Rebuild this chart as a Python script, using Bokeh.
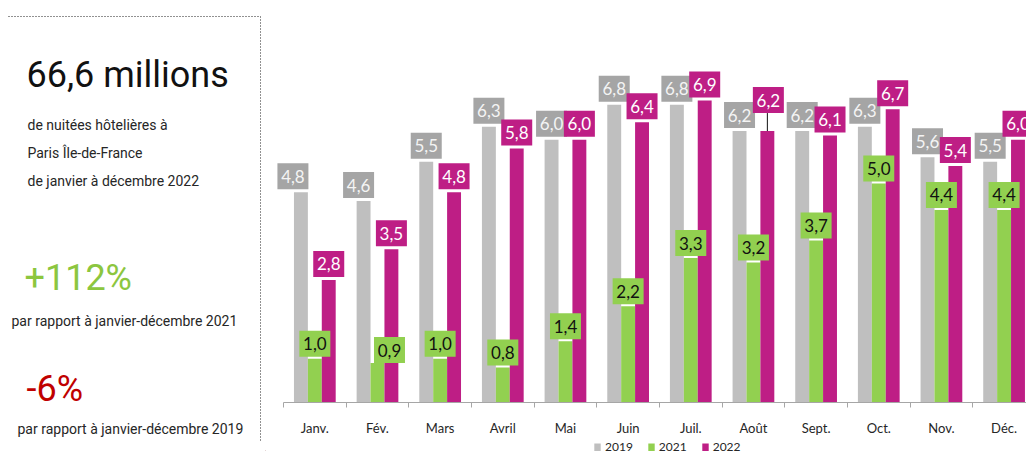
from bokeh.plotting import figure
from bokeh.layouts import row, column
from bokeh.models import Range1d, FixedTicker, Legend, LegendItem
from bokeh.embed import file_html
from bokeh.resources import INLINE
from bokeh.core.properties import value

# ---------------- data ----------------
months = ["Janv.", "Fév.", "Mars", "Avril", "Mai", "Juin", "Juil.", "Août",
          "Sept.", "Oct.", "Nov.", "Déc."]
years = ["2019", "2021", "2022"]
v2019 = [4.8, 4.6, 5.5, 6.3, 6.0, 6.8, 6.8, 6.2, 6.2, 6.3, 5.6, 5.5]
v2021 = [1.0, 0.9, 1.0, 0.8, 1.4, 2.2, 3.3, 3.2, 3.7, 5.0, 4.4, 4.4]
v2022 = [2.8, 3.5, 4.8, 5.8, 6.0, 6.4, 6.9, 6.2, 6.1, 6.7, 5.4, 6.0]

headline = "66,6 millions"
subtitle_lines = ["de nuitées hôtelières à", "Paris Île-de-France",
                  "de janvier à décembre 2022"]
kpi_2021 = "+112%"
kpi_2021_text = "par rapport à janvier-décembre 2021"
kpi_2019 = "-6%"
kpi_2019_text = "par rapport à janvier-décembre 2019"

# ---------------- style / layout ----------------
W, H = 1026, 451
LEG_H = 13
LEFT_W = 265
RIGHT_W = W - LEFT_W
CHART_H = H - LEG_H
BORDER_L, BORDER_T = 5, 8
BORDER_B = CHART_H - 402
FRAME_W = RIGHT_W - BORDER_L
FRAME_H = CHART_H - BORDER_T - BORDER_B
CAT_PX = 62.66
AXIS_PAD_PX = 13          # extra frame room left of the axis start
X_START = -0.5 - AXIS_PAD_PX / CAT_PX
X_END = X_START + FRAME_W / CAT_PX
Y_END = 9.0
PPU = FRAME_H / Y_END
BAR_W = 0.222

bar_colors = {"2019": "#BFBFBF", "2021": "#92D050", "2022": "#BE1E85"}
box_colors = {"2019": "#A5A5A5", "2021": "#92D050", "2022": "#BE1E85"}
txt_colors = {"2019": "#F4F4F4", "2021": "#111111", "2022": "#FFFFFF"}
gaps = {"2019": 3, "2021": 2, "2022": 3}
offsets = {"2019": -BAR_W, "2021": 0.0, "2022": BAR_W}
# pixel nudges of individual labels (dx, dy up)
nudges = {("2019", 0): (-8, 0), ("2019", 1): (-5, 0), ("2021", 1): (12, -2),
          ("2022", 7): (1, 15)}
BOX_W, BOX_H = 31, 26
LABEL_FONT = value("Lato")
LEFT_FONT = value("Roboto")

series = {"2019": v2019, "2021": v2021, "2022": v2022}

# ---------------- left text panel ----------------
left = figure(width=LEFT_W, height=H, x_range=Range1d(0, LEFT_W),
              y_range=Range1d(H, 0), x_axis_type=None, y_axis_type=None,
              toolbar_location=None, output_backend="svg", min_border=0,
              frame_align=False)
left.outline_line_color = None
left.grid.visible = False

left.line(x=[8, 260], y=[16, 16], line_color="#222222", line_dash="1 2", line_width=1)
left.line(x=[260, 260], y=[16, 441], line_color="#222222", line_dash="1 2", line_width=1)

left.text(x=[26], y=[74], text=[headline], text_font=LEFT_FONT, text_font_size="36px",
          text_baseline="middle", text_color="#111111")
left.text(x=[27, 27, 27], y=[124, 152, 180], text=subtitle_lines, text_font=LEFT_FONT,
          text_font_size="14px", text_baseline="middle", text_color="#262626")
left.text(x=[24], y=[277], text=[kpi_2021], text_font=LEFT_FONT, text_font_size="36px",
          text_baseline="middle", text_color="#8CC63F")
left.text(x=[11], y=[320], text=[kpi_2021_text], text_font=LEFT_FONT, text_font_size="14px",
          text_baseline="middle", text_color="#262626")
left.text(x=[26], y=[388], text=[kpi_2019], text_font=LEFT_FONT, text_font_size="36px",
          text_baseline="middle", text_color="#C00000")
left.text(x=[17], y=[428], text=[kpi_2019_text], text_font=LEFT_FONT, text_font_size="14px",
          text_baseline="middle", text_color="#262626")

# ---------------- chart ----------------
p = figure(width=RIGHT_W, height=CHART_H, x_range=Range1d(X_START, X_END),
           y_range=Range1d(0, Y_END),
           y_axis_type=None, toolbar_location=None, output_backend="svg",
           min_border_left=BORDER_L, min_border_right=0, min_border_top=BORDER_T,
           min_border_bottom=BORDER_B, frame_align=False)
p.outline_line_color = None
p.grid.visible = False

idx = list(range(len(months)))
for y in years:
    xs = [i + offsets[y] for i in idx]
    p.vbar(x=xs, top=series[y], width=BAR_W, fill_color=bar_colors[y], line_color=None)

for y in years:
    bx, by, bt, lx0, ly0, ly1 = [], [], [], [], [], []
    for i, v in enumerate(series[y]):
        dx, dy = nudges.get((y, i), (0, 0))
        x = i + offsets[y] + dx / CAT_PX
        bottom = v + (gaps[y] + dy) / PPU
        bx.append(x)
        by.append(bottom + (BOX_H / 2) / PPU)
        bt.append(f"{v:.1f}".replace(".", ","))
        if dy > 4:
            lx0.append(i + offsets[y])
            ly0.append(v)
            ly1.append(bottom)
    if lx0:
        p.segment(x0=lx0, y0=ly0, x1=lx0, y1=ly1, line_color="#111111", line_width=1)
    p.rect(x=bx, y=by, width=BOX_W, height=BOX_H, width_units="screen",
           height_units="screen", fill_color=box_colors[y], line_color=None)
    p.text(x=bx, y=by, text=bt, text_font=LABEL_FONT, text_font_size="17px",
           text_align="center", text_baseline="middle", text_color=txt_colors[y])

ax = p.xaxis[0]
ax.bounds = (-0.5, len(idx) - 0.5)
ax.ticker = FixedTicker(ticks=idx, minor_ticks=[i - 0.5 for i in idx] + [len(idx) - 0.5])
ax.major_label_overrides = {i: m for i, m in enumerate(months)}
ax.major_tick_in = 0
ax.major_tick_out = 0
ax.minor_tick_in = 0
ax.minor_tick_out = 5
ax.axis_line_color = "#A6A6A6"
ax.minor_tick_line_color = "#A6A6A6"
ax.major_label_standoff = 12
ax.major_label_text_font = "Lato"
ax.major_label_text_font_size = "13px"
ax.major_label_text_color = "#262626"

# ---------------- legend strip (cut by the window edge as in the original) -------------
lg = figure(width=RIGHT_W, height=LEG_H, x_range=Range1d(0, RIGHT_W),
            y_range=Range1d(0, LEG_H), x_axis_type=None, y_axis_type=None,
            toolbar_location=None, output_backend="svg", min_border=0,
            frame_align=False)
lg.outline_line_color = None
lg.grid.visible = False
# swatch renderers: one point each, placed outside the strip's visible range
leg_renderers = [lg.vbar(x=[-1000], top=[1], width=1, fill_color=bar_colors[y],
                         line_color=None) for y in years]
legend = Legend(items=[LegendItem(label=y, renderers=[r]) for y, r in zip(years, leg_renderers)],
                location=(328, -3), orientation="horizontal", glyph_width=8,
                glyph_height=10, label_height=12, label_text_font_size="12px",
                label_text_font="Lato", label_text_color="#262626", padding=0,
                margin=0, spacing=14, label_standoff=4, border_line_color=None,
                background_fill_alpha=0)
lg.add_layout(legend)

layout = row(left, column(p, lg))
open("out.html", "w").write(file_html(layout, INLINE))
